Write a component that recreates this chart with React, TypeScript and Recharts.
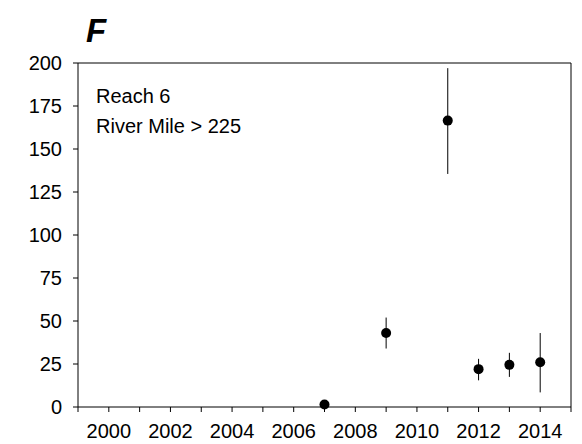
import React from 'react'
import {
    ScatterChart,
    Scatter,
    XAxis,
    YAxis,
    ErrorBar,
    ReferenceLine,
} from 'recharts'

// survey years and estimates with error ranges
const years = [2007, 2009, 2011, 2012, 2013, 2014]
const means = [1.5, 43, 166.5, 22, 24.5, 26]
const lows = [1.5, 34, 135.5, 15.5, 17.5, 8.5]
const highs = [1.5, 52, 197, 28, 31.5, 43]

const xTicks = [1999, 2000, 2001, 2002, 2003, 2004, 2005, 2006, 2007, 2008, 2009, 2010, 2011, 2012, 2013, 2014, 2015]
const yTicks = [0, 25, 50, 75, 100, 125, 150, 175, 200]

const FONT = '"Liberation Sans", Arial, Helvetica, sans-serif'

const data = years.map((year, i) => ({
    year,
    value: means[i],
    err: [means[i] - lows[i], highs[i] - means[i]],
}))

export default function App() {
    return (
        <div style={{ position: 'absolute', left: 0, top: 0, width: 582, height: 444, background: '#fff', fontFamily: FONT }}>
            <ScatterChart width={582} height={444} margin={{ top: 63, right: 11, left: 18, bottom: 7 }}>
                <XAxis
                    type="number"
                    dataKey="year"
                    domain={[1999, 2015]}
                    ticks={xTicks}
                    tickFormatter={(v: number) => (v % 2 === 0 ? String(v) : '')}
                    interval={0}
                    height={30}
                    tickSize={5}
                    tickMargin={12}
                    stroke="#000"
                    tick={{ fill: '#000', fontSize: 20, fontFamily: FONT }}
                    axisLine={{ stroke: '#000', strokeWidth: 1 }}
                    tickLine={{ stroke: '#000', strokeWidth: 1 }}
                />
                <YAxis
                    type="number"
                    dataKey="value"
                    domain={[0, 200]}
                    ticks={yTicks}
                    interval={0}
                    width={60}
                    tickSize={5}
                    tickMargin={11}
                    stroke="#000"
                    tick={{ fill: '#000', fontSize: 20, fontFamily: FONT }}
                    axisLine={{ stroke: '#000', strokeWidth: 1 }}
                    tickLine={{ stroke: '#000', strokeWidth: 1 }}
                />
                <ReferenceLine y={200} stroke="#000" strokeWidth={1} />
                <ReferenceLine x={2015} stroke="#000" strokeWidth={1} />
                <Scatter
                    data={data}
                    fill="#000"
                    isAnimationActive={false}
                    shape={(p: any) => <circle cx={p.cx} cy={p.cy} r={5} fill="#000" />}
                >
                    <ErrorBar dataKey="err" direction="y" width={0} stroke="#000" strokeWidth={1} isAnimationActive={false} />
                </Scatter>
            </ScatterChart>
            <svg width={582} height={444} style={{ position: 'absolute', left: 0, top: 0, pointerEvents: 'none' }}>
                <text x={86} y={42} fontSize={33} fontWeight="bold" fontStyle="italic" fontFamily={FONT} fill="#000">F</text>
                <text x={96} y={103} fontSize={20} fontFamily={FONT} fill="#000">Reach 6</text>
                <text x={96} y={133} fontSize={20} fontFamily={FONT} fill="#000">River Mile &gt; 225</text>
            </svg>
        </div>
    )
}
